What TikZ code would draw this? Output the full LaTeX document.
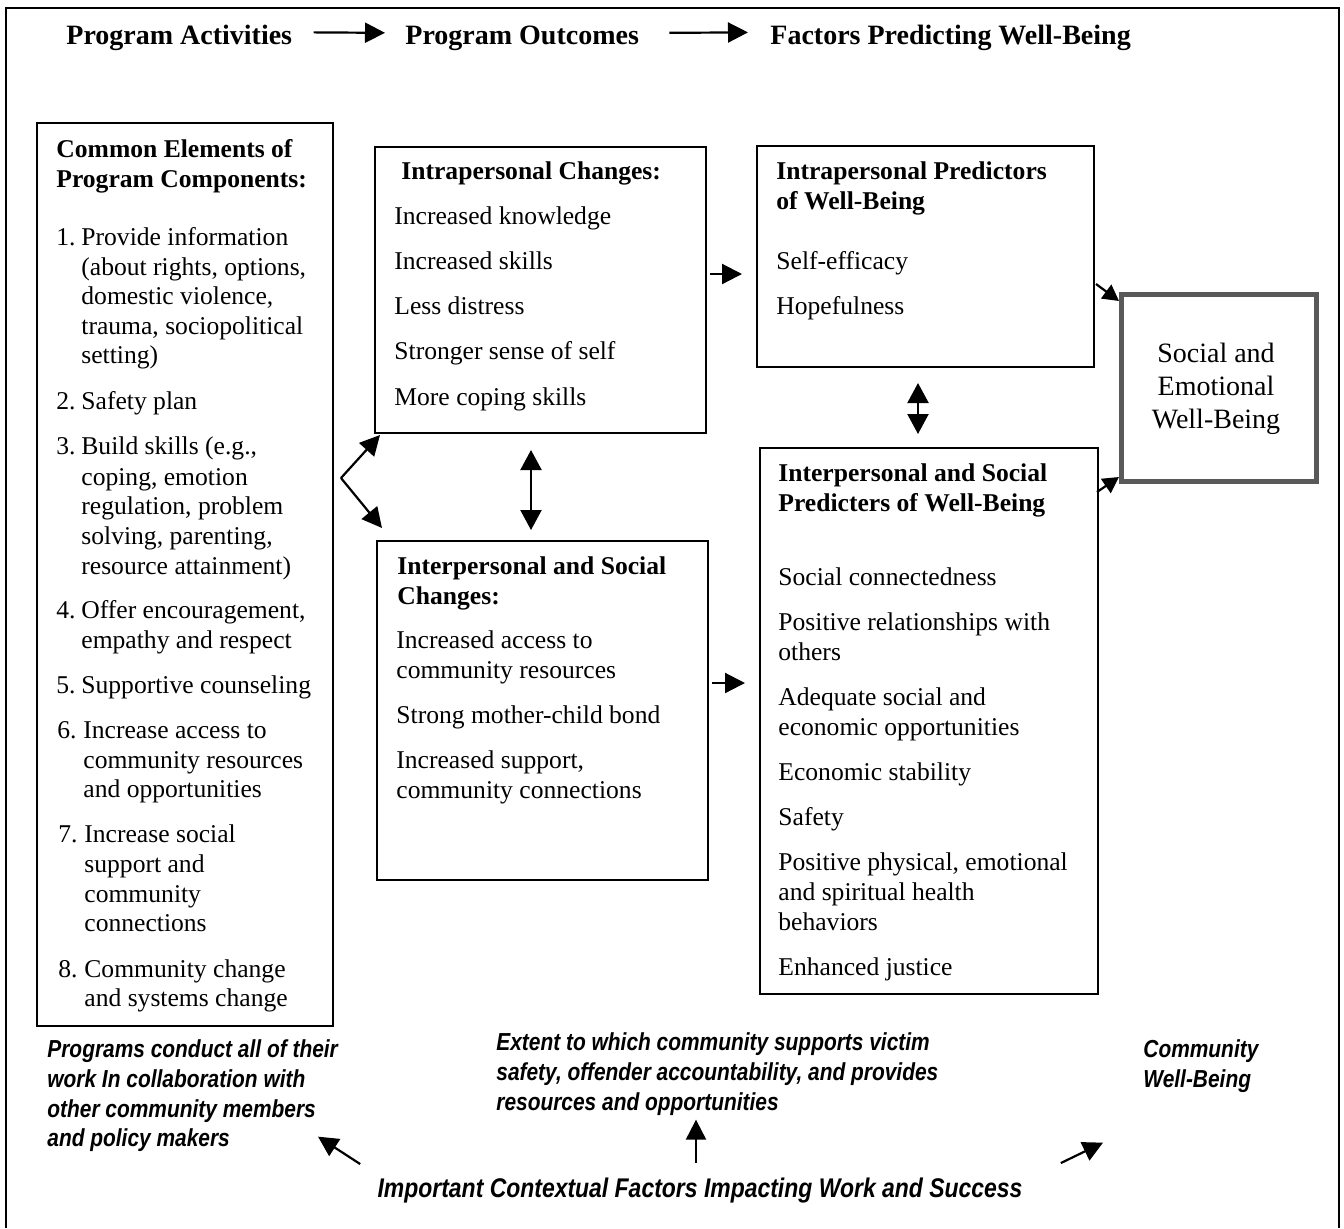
\documentclass[tikz,border=0pt]{standalone}
\usepackage{fontspec}
\setmainfont{Liberation Serif}
\newfontfamily\narrowsans[FakeStretch=0.85]{Liberation Sans}
\usetikzlibrary{arrows.meta,calc}
\begin{document}
\begin{tikzpicture}[x=0.5pt,y=-0.5pt,
  hd/.style={font=\fontsize{14}{16}\selectfont\bfseries, anchor=base west, inner sep=0},
  bt/.style={font=\fontsize{12.8}{15}\selectfont\bfseries, anchor=base west, inner sep=0},
  tx/.style={font=\fontsize{12.8}{15}\selectfont, anchor=base west, inner sep=0},
  st/.style={font=\fontsize{14}{16}\selectfont, anchor=base, inner sep=0},
  it/.style={font=\narrowsans\bfseries\itshape\fontsize{12.3}{15}\selectfont, anchor=base west, inner sep=0},
  itbig/.style={font=\narrowsans\bfseries\itshape\fontsize{13.5}{16}\selectfont, anchor=base, inner sep=0},
  box/.style={draw, line width=1pt, anchor=north west, inner sep=0},
  sewbox/.style={draw=black!65, line width=2.5pt, anchor=north west, inner sep=0},
  arr/.style={line width=1.1pt, -{Triangle[length=10pt,width=10pt]}},
  darr/.style={line width=1.1pt, {Triangle[length=10pt,width=10.5pt]}-{Triangle[length=10pt,width=10.5pt]}},
  sarr/.style={line width=1.1pt, -{Triangle[length=8pt,width=8.5pt]}}]
\useasboundingbox (0,0) rectangle (1344,1228);
% outer frame
\draw[line width=1.2pt] (6,1228) -- (6,8) -- (1339,8) -- (1339,1228);

% header
\node[hd] (h1) at (66,44) {Program Activities};
\node[hd] (h2) at (405,44) {Program Outcomes};
\node[hd] (h3) at (770,44) {Factors Predicting Well-Being};
\draw[arr] ($(h1.east)+(21,-5)$) -- ($(h2.west)+(-20,-5)$);
\draw[arr] ($(h2.east)+(30,-5)$) -- ($(h3.west)+(-22,-5)$);

% boxes
\node[box, minimum width=148pt, minimum height=451.5pt] (lb) at (36,122) {};
\node[box, minimum width=165.5pt, minimum height=143pt] (ic) at (374,146) {};
\node[box, minimum width=165.5pt, minimum height=169.5pt] (isc) at (376,540) {};
\node[box, minimum width=168.5pt, minimum height=110.5pt] (ip) at (756,145) {};
\node[box, minimum width=169pt, minimum height=273pt] (isp) at (759,447) {};
\node[sewbox, minimum width=97.5pt, minimum height=93.5pt] (sew) at (1119,292) {};

% left box text
\node[bt] (lbh1) at (56,157) {Common Elements of};
\node[bt] (lbh2) at (56,187) {Program Components:};
\node[tx] (n1) at (56,245) {1.};
\node[tx] (a1) at (81,245) {Provide information};
\node[tx] (a2) at (81,275) {(about rights, options,};
\node[tx] (a3) at (81,304) {domestic violence,};
\node[tx] (a4) at (81,334) {trauma, sociopolitical};
\node[tx] (a5) at (81,363) {setting)};
\node[tx] (n2) at (56,409) {2.};
\node[tx] (b1) at (81,409) {Safety plan};
\node[tx] (n3) at (56,454) {3.};
\node[tx] (c1) at (81,454) {Build skills (e.g.,};
\node[tx] (c2) at (81,485) {coping, emotion};
\node[tx] (c3) at (81,514) {regulation, problem};
\node[tx] (c4) at (81,544) {solving, parenting,};
\node[tx] (c5) at (81,574) {resource attainment)};
\node[tx] (n4) at (56,618) {4.};
\node[tx] (d1) at (81,618) {Offer encouragement,};
\node[tx] (d2) at (81,648) {empathy and respect};
\node[tx] (n5) at (56,693) {5.};
\node[tx] (e1) at (81,693) {Supportive counseling};
\node[tx] (n6) at (57,738) {6.};
\node[tx] (f1) at (83,738) {Increase access to};
\node[tx] (f2) at (83,768) {community resources};
\node[tx] (f3) at (83,797) {and opportunities};
\node[tx] (n7) at (58,842) {7.};
\node[tx] (g1) at (84,842) {Increase social};
\node[tx] (g2) at (84,872) {support and};
\node[tx] (g3) at (84,902) {community};
\node[tx] (g4) at (84,931) {connections};
\node[tx] (n8) at (58,977) {8.};
\node[tx] (k1) at (84,977) {Community change};
\node[tx] (k2) at (84,1006) {and systems change};

% intrapersonal changes
\node[bt] (ich) at (401,179) {Intrapersonal Changes:};
\node[tx] (ic1) at (394,224) {Increased knowledge};
\node[tx] (ic2) at (394,269) {Increased skills};
\node[tx] (ic3) at (394,314) {Less distress};
\node[tx] (ic4) at (394,359) {Stronger sense of self};
\node[tx] (ic5) at (394,405) {More coping skills};

% interpersonal changes
\node[bt] (isch1) at (397,574) {Interpersonal and Social};
\node[bt] (isch2) at (397,604) {Changes:};
\node[tx] (isc1) at (396,648) {Increased access to};
\node[tx] (isc2) at (396,678) {community resources};
\node[tx] (isc3) at (396,723) {Strong mother-child bond};
\node[tx] (isc4) at (396,768) {Increased support,};
\node[tx] (isc5) at (396,798) {community connections};

% intrapersonal predictors
\node[bt] (iph1) at (776,179) {Intrapersonal Predictors};
\node[bt] (iph2) at (776,209) {of Well-Being};
\node[tx] (ip1) at (776,269) {Self-efficacy};
\node[tx] (ip2) at (776,314) {Hopefulness};

% interpersonal predictors
\node[bt] (isph1) at (778,481) {Interpersonal and Social};
\node[bt] (isph2) at (778,511) {Predicters of Well-Being};
\node[tx] (isp1) at (778,585) {Social connectedness};
\node[tx] (isp2) at (778,630) {Positive relationships with};
\node[tx] (isp3) at (778,660) {others};
\node[tx] (isp4) at (778,705) {Adequate social and};
\node[tx] (isp5) at (778,735) {economic opportunities};
\node[tx] (isp6) at (778,780) {Economic stability};
\node[tx] (isp7) at (778,825) {Safety};
\node[tx] (isp8) at (778,870) {Positive physical, emotional};
\node[tx] (isp9) at (778,900) {and spiritual health};
\node[tx] (isp10) at (778,930) {behaviors};
\node[tx] (isp11) at (778,975) {Enhanced justice};

% social and emotional well-being
\node[st] (sew1) at (1216,362) {Social and};
\node[st] (sew2) at (1216,395) {Emotional};
\node[st] (sew3) at (1216,428) {Well-Being};

% connectors between boxes
\coordinate (fork) at (341,478);
\draw[arr] (fork) -- ($(ic.south west)+(6,1)$);
\draw[arr] (fork) -- ($(isc.north west)+(6,-12)$);
\draw[darr] ($(ic.south west)+(157,16)$) -- ($(isc.north west)+(155,-10)$);
\draw[arr] ($(ic.east)+(3,-16)$) -- ($(ip.west)+(-14,17.5)$);
\draw[arr] ($(isc.east)+(3,-27.5)$) -- ($(isp.west)+(-14,-38)$);
\draw[darr] ($(ip.south)+(-7.5,15)$) -- ($(isp.north)+(-11,-13)$);
\draw[sarr] ($(ip.east)+(1,27.5)$) -- ($(sew.north west)+(0,9)$);
\draw[sarr] ($(isp.north east)+(-2,45)$) -- ($(sew.south west)+(0,-7)$);

% bottom texts
\node[it] (lt1) at (47,1057) {Programs conduct all of their};
\node[it] (lt2) at (47,1087) {work In collaboration with};
\node[it] (lt3) at (47,1117) {other community members};
\node[it] (lt4) at (47,1146) {and policy makers};
\node[it] (mt1) at (496,1050) {Extent to which community supports victim};
\node[it] (mt2) at (496,1080) {safety, offender accountability, and provides};
\node[it] (mt3) at (496,1110) {resources and opportunities};
\node[it] (rt1) at (1143,1057) {Community};
\node[it] (rt2) at (1143,1087) {Well-Being};
\node[itbig] (ctx) at (700,1197) {Important Contextual Factors Impacting Work and Success};

\draw[arr] ($(ctx.north west)+(-17,-13)$) -- ($(lt4.west)+(271,-3)$);
\draw[arr] ($(ctx.north)+(-4,-14)$) -- ($(mt3.west)+(200,16)$);
\draw[arr] ($(ctx.north east)+(38,-14)$) -- ($(rt2.west)+(-40,62)$);
\end{tikzpicture}
\end{document}
